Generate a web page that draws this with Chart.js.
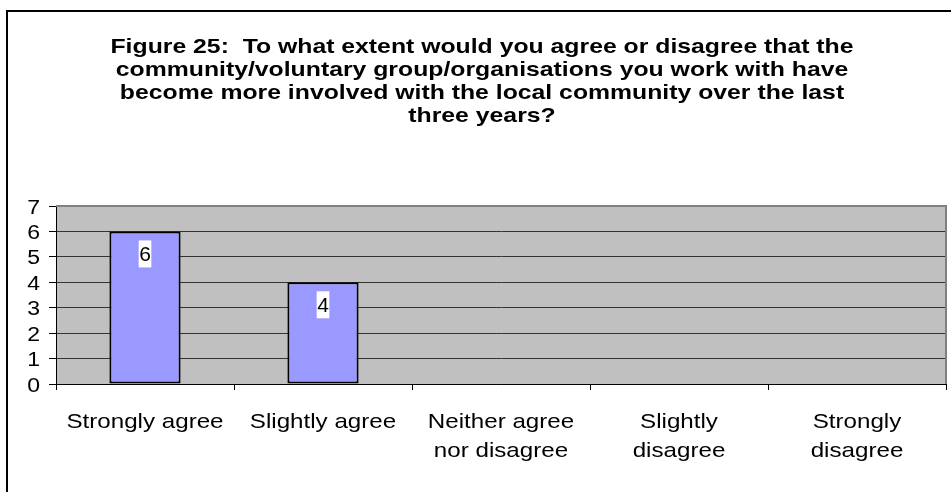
<!DOCTYPE html>
<html>
<head>
<meta charset="utf-8">
<script src="https://cdn.jsdelivr.net/npm/chart.js@4.4.0/dist/chart.umd.min.js"></script>
<style>
  html, body { margin: 0; padding: 0; background: #fff; }
  #wrap { width: 951px; height: 492px; }
</style>
</head>
<body>
<div id="wrap"><canvas id="figure25"></canvas></div>
<script>
    "use strict";

    // Chart data
    var titleLines = [
        "Figure 25:  To what extent would you agree or disagree that the",
        "community/voluntary group/organisations you work with have",
        "become more involved with the local community over the last",
        "three years?"
    ];
    var categories = [
        ["Strongly agree"],
        ["Slightly agree"],
        ["Neither agree", "nor disagree"],
        ["Slightly", "disagree"],
        ["Strongly", "disagree"]
    ];
    var responses = [6, 4, 0, 0, 0];
    var yTicks = [0, 1, 2, 3, 4, 5, 6, 7];

    var FONT = "'Liberation Sans', Arial, Helvetica, sans-serif";

    // the old Excel export has its text a bit wide, so stretch it sideways
    function wideText(ctx, txt, x, y, align, sx) {
        ctx.save();
        ctx.translate(x, y);
        ctx.scale(sx, 1);
        ctx.textAlign = align;
        ctx.fillText(txt, 0, 0);
        ctx.restore();
    }

    // Page frame + grey plot background
    var backgroundPlugin = {
        id: "background",
        beforeDraw: function (chart) {
            var ctx = chart.ctx;
            var a = chart.chartArea;
            ctx.save();
            ctx.fillStyle = "#ffffff";
            ctx.fillRect(0, 0, chart.width, chart.height);
            ctx.strokeStyle = "#000000";
            ctx.lineWidth = 2;
            ctx.strokeRect(7, 11, chart.width + 20, chart.height + 20);
            ctx.fillStyle = "#C0C0C0";
            ctx.fillRect(a.left, a.top, a.right - a.left, a.bottom - a.top);
            ctx.restore();
        },
        beforeDatasetsDraw: function (chart) {
            var ctx = chart.ctx;
            var a = chart.chartArea;
            ctx.save();
            ctx.strokeStyle = "#808080";
            ctx.lineWidth = 2;
            ctx.beginPath();
            ctx.moveTo(a.left, a.top);
            ctx.lineTo(a.right, a.top);
            ctx.lineTo(a.right, a.bottom);
            ctx.stroke();
            ctx.restore();
        }
    };

    // Title, tick labels and value labels
    var textPlugin = {
        id: "texts",
        afterDraw: function (chart) {
            var ctx = chart.ctx;
            var xs = chart.scales.x;
            var ys = chart.scales.y;
            ctx.save();
            ctx.fillStyle = "#000000";
            ctx.textBaseline = "alphabetic";

            // title
            ctx.font = "bold 21px " + FONT;
            titleLines.forEach(function (line, i) {
                wideText(ctx, line, 482, 53 + i * 23, "center", 1.18);
            });

            // y axis labels
            ctx.font = "20px " + FONT;
            yTicks.forEach(function (v) {
                wideText(ctx, String(v), 40, ys.getPixelForValue(v) + 7.5, "right", 1.15);
            });

            // x axis labels
            ctx.font = "21px " + FONT;
            categories.forEach(function (lines, i) {
                var cx = xs.getPixelForValue(i);
                lines.forEach(function (line, j) {
                    wideText(ctx, line, cx, 428 + j * 29, "center", 1.15);
                });
            });

            // values in white boxes near the bar tops
            var meta = chart.getDatasetMeta(0);
            ctx.font = "21px " + FONT;
            meta.data.forEach(function (bar, i) {
                var v = responses[i];
                if (!v) return;
                var txt = String(v);
                var w = ctx.measureText(txt).width + 1;
                ctx.fillStyle = "#ffffff";
                ctx.fillRect(bar.x - w / 2, bar.y + 9, w, 27);
                ctx.fillStyle = "#000000";
                wideText(ctx, txt, bar.x, bar.y + 30, "center", 1.0);
            });
            ctx.restore();
        }
    };

    var ctx1 = document.getElementById("figure25").getContext("2d");
    var chart1 = new Chart(ctx1, {
        type: "bar",
        data: {
            labels: categories,
            datasets: [{
                label: "Responses",
                data: responses,
                backgroundColor: "#9999FF",
                borderColor: "#000000",
                borderWidth: 2,
                borderSkipped: false,
                categoryPercentage: 1.0,
                barPercentage: 0.4
            }]
        },
        options: {
            responsive: true,
            maintainAspectRatio: false,
            animation: false,
            layout: { padding: { left: 0, right: 5, top: 206, bottom: 0 } },
            plugins: {
                legend: { display: false },
                tooltip: { enabled: false },
                title: { display: false }
            },
            scales: {
                x: {
                    grid: {
                        display: true,
                        drawOnChartArea: false,
                        drawTicks: true,
                        tickLength: 6,
                        tickColor: "#000000",
                        offset: true
                    },
                    border: { display: true, color: "#000000", width: 1 },
                    ticks: { display: false },
                    afterFit: function (scale) { scale.height = 108; }
                },
                y: {
                    min: yTicks[0],
                    max: yTicks[yTicks.length - 1],
                    afterBuildTicks: function (scale) {
                        scale.ticks = yTicks.map(function (v) { return { value: v }; });
                    },
                    grid: {
                        color: "#333333",
                        lineWidth: 1,
                        tickLength: 7,
                        tickColor: "#000000"
                    },
                    border: { display: true, color: "#000000", width: 1 },
                    ticks: { display: false },
                    afterFit: function (scale) { scale.width = 56; }
                }
            }
        },
        plugins: [backgroundPlugin, textPlugin]
    });
</script>
</body>
</html>
